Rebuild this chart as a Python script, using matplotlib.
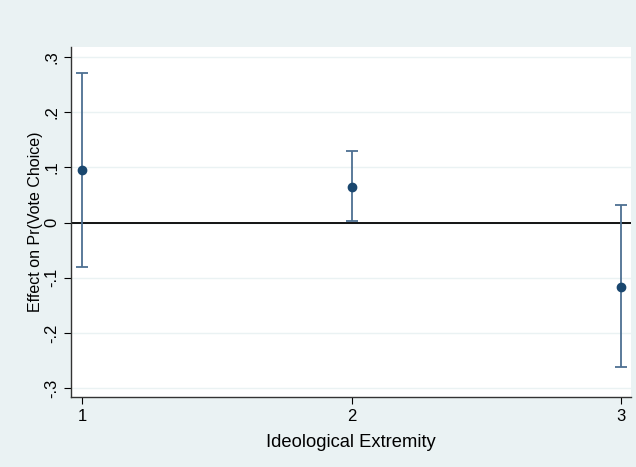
import matplotlib

matplotlib.use("Agg")
import matplotlib.pyplot as plt

plt.rcParams["font.family"] = ["Liberation Sans", "DejaVu Sans"]

extremity = [1, 2, 3]
effect = [0.096, 0.065, -0.116]
ci_low = [-0.081, 0.002, -0.261]
ci_high = [0.271, 0.129, 0.031]
yticks = [-0.3, -0.2, -0.1, 0, 0.1, 0.2, 0.3]
ytick_labels = ["-.3", "-.2", "-.1", "0", ".1", ".2", ".3"]

bg = "#eaf2f3"
fig = plt.figure(figsize=(6.36, 4.67), dpi=100, facecolor=bg)
ax = fig.add_axes([0.1116, 0.1499, 0.8805, 0.7495])
ax.set_facecolor("white")

yerr = [[e - lo for e, lo in zip(effect, ci_low)], [hi - e for e, hi in zip(effect, ci_high)]]
ax.errorbar(extremity, effect, yerr=yerr, fmt="none", ecolor="#4d6f92",
            elinewidth=1.3, capsize=4, capthick=1.3, zorder=3)
ax.plot(extremity, effect, "o", color="#1a476f", markersize=6, zorder=4)
ax.axhline(0, color="black", linewidth=1.3, zorder=2)

ax.set_xlim(0.959, 3.037)
ax.set_ylim(-0.316, 0.318)
ax.set_xticks(extremity)
ax.set_xticklabels([str(x) for x in extremity])
ax.set_yticks(yticks)
ax.set_yticklabels(ytick_labels, rotation=90, va="center")
ax.tick_params(labelsize=12, length=5, width=0.8, colors="black")
ax.grid(True, axis="y", color=bg, linewidth=1)
ax.set_axisbelow(True)

for side in ["top", "right"]:
    ax.spines[side].set_visible(False)
for side in ["left", "bottom"]:
    ax.spines[side].set_color("#333333")
    ax.spines[side].set_linewidth(1)

ax.set_xlabel("Ideological Extremity", fontsize=13.2, labelpad=7)
ax.set_ylabel("Effect on Pr(Vote Choice)", fontsize=11.5, labelpad=1)

fig.savefig("out.png", dpi=100, facecolor=bg)
